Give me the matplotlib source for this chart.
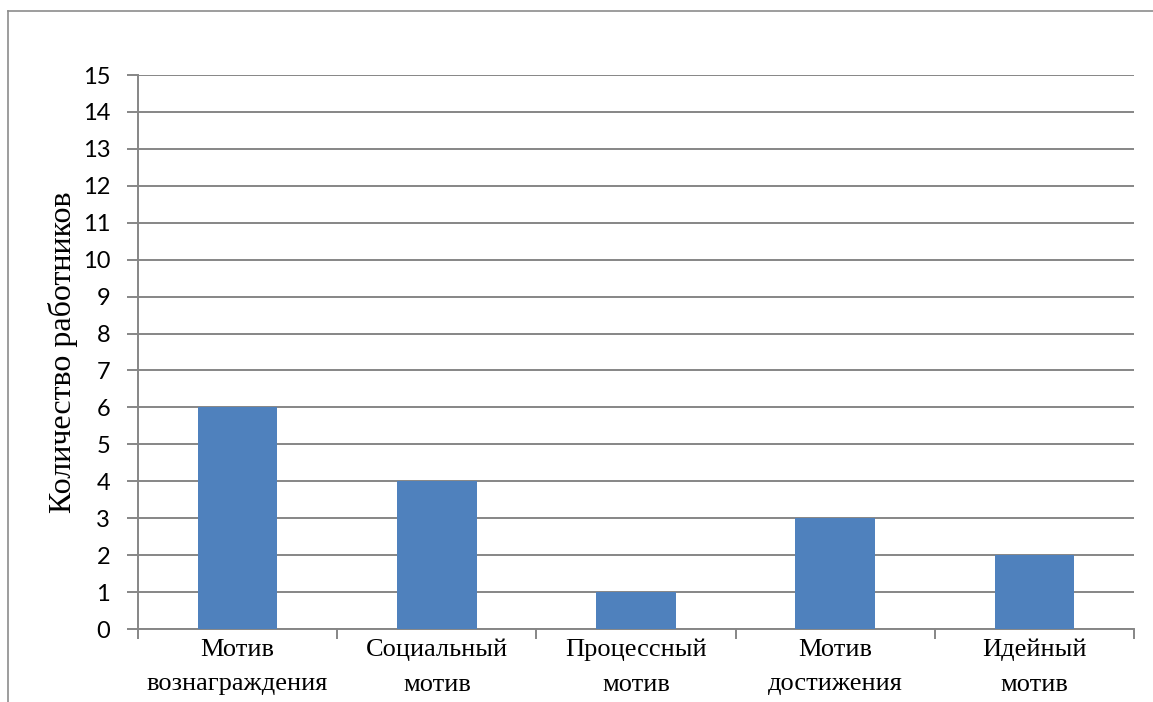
import numpy as np
import matplotlib.pyplot as plt
from matplotlib.lines import Line2D

# мотивы и число работников
categories = ['Мотив\nвознаграждения', 'Социальный\nмотив', 'Процессный\nмотив',
              'Мотив\nдостижения', 'Идейный\nмотив']
counts = [6, 4, 1, 3, 2]
y_ticks = list(range(0, 16))

fig = plt.figure(figsize=(11.53, 7.02), dpi=100)
ax = fig.add_axes([138 / 1153, 1 - 629 / 702, (1134 - 138) / 1153, (629 - 75) / 702])

grid_c = '#868686'
x = np.arange(len(categories))
ax.bar(x, counts, width=0.4, color='#4F81BD', zorder=3)

ax.set_xlim(-0.5, len(categories) - 0.5)
ax.set_ylim(0, 15)
ax.set_yticks(y_ticks)
ax.set_yticklabels([str(v) for v in y_ticks], fontfamily='Lato', fontsize=17)
ax.yaxis.grid(True, color=grid_c, linewidth=1.4, zorder=0)
ax.tick_params(axis='y', length=8, width=1.4, color=grid_c, pad=12)

# подписи категорий по центрам, засечки на границах
ax.set_xticks(x)
ax.set_xticklabels(categories, fontfamily='Liberation Serif', fontsize=19, linespacing=1.75)
ax.tick_params(axis='x', length=0, pad=7)
ax.set_xticks(np.arange(-0.5, len(categories)), minor=True)
ax.tick_params(axis='x', which='minor', length=7, width=1.4, color=grid_c)

for side in ['top', 'right']:
    ax.spines[side].set_visible(False)
ax.spines['left'].set_color(grid_c)
ax.spines['left'].set_linewidth(1.4)
ax.spines['bottom'].set_color(grid_c)
ax.spines['bottom'].set_linewidth(1.4)

ax.set_ylabel('Количество работников', fontfamily='Liberation Serif', fontsize=23, labelpad=3)

# рамка области диаграммы
fig.add_artist(Line2D([8 / 1153, 8 / 1153], [0, 1 - 11 / 702], color='#8c8c8c', linewidth=1.2))
fig.add_artist(Line2D([8 / 1153, 1], [1 - 11 / 702, 1 - 11 / 702], color='#8c8c8c', linewidth=1.2))

fig.savefig('out.png', dpi=100)
